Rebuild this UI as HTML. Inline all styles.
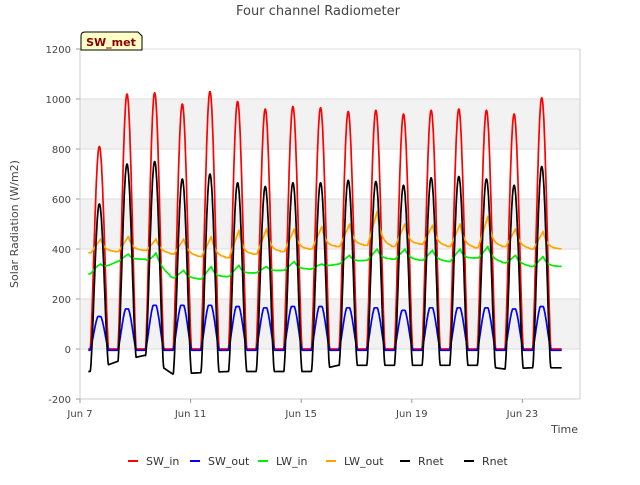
<!DOCTYPE html>
<html><head><meta charset="utf-8"><style>
body{margin:0;background:#fff;font-family:"Liberation Sans","DejaVu Sans",sans-serif}
svg text{font-family:"DejaVu Sans","Liberation Sans",sans-serif}
</style></head><body>
<svg id="c" width="640" height="480" xmlns="http://www.w3.org/2000/svg">
<text x="318" y="15" text-anchor="middle" font-size="13" fill="#444">Four channel Radiometer</text>
<text transform="translate(18,224) rotate(-90)" text-anchor="middle" font-size="11" fill="#444">Solar Radiation (W/m2)</text>
<text x="578" y="433" text-anchor="end" font-size="11" fill="#444">Time</text>
<g id="bands"></g><g id="grid"></g><g id="series"></g><g id="axes"></g>
<g>
<path d="M81,50 L81,36 Q81,32 85,32 L138,32 L142,36 L142,50 Z" fill="#ffffc8" stroke="#000" stroke-width="1"/>
<text x="111" y="46" text-anchor="middle" font-size="11" font-weight="bold" fill="#8b0000">SW_met</text>
</g>
<g id="legend"></g>
</svg>
<script>
const yTicks=[-200,0,200,400,600,800,1000,1200];
const xTickLabels=["Jun 7","Jun 11","Jun 15","Jun 19","Jun 23"];
const xTickDays=[0,4,8,12,16];
const swInPeak=[810,1020,1025,980,1030,990,960,970,965,950,955,940,955,960,955,940,1005];
const swOutPeak=[130,160,175,175,175,170,165,170,170,165,165,155,165,165,165,160,170];
const rnetPeak=[580,740,750,680,700,665,650,665,665,675,670,655,685,690,680,655,730];
const rnetNight=[-90,-50,-25,-100,-95,-90,-90,-90,-90,-65,-65,-65,-65,-65,-65,-80,-75];
const lwInMin=[300,350,360,285,280,290,305,315,320,340,355,360,355,350,365,345,330];
const lwInMax=[340,380,385,315,330,335,330,350,340,375,400,400,395,400,410,375,370];
const lwOutMin=[385,390,395,380,370,365,380,390,400,410,415,410,420,410,405,410,400];
const lwOutMax=[440,450,440,440,450,475,480,480,490,500,550,500,495,500,530,480,470];
const X0=80,X1=580,Y0=49,Y1=399,DAYPX=27.65;
const xs=d=>X0+d*DAYPX;
const ys=v=>Y0+(1200-v)*(Y1-Y0)/1400;
const NS="http://www.w3.org/2000/svg";
function mk(tag,attrs,parent){const e=document.createElementNS(NS,tag);for(const k in attrs)e.setAttribute(k,attrs[k]);parent.appendChild(e);return e;}
const bands=document.getElementById('bands'),grid=document.getElementById('grid'),axes=document.getElementById('axes'),ser=document.getElementById('series'),leg=document.getElementById('legend');
mk('rect',{x:X0,y:Y0,width:X1-X0,height:Y1-Y0,fill:'#fff'},bands);
for(let i=0;i<yTicks.length-1;i++){if(i%2===1){const r=mk('rect',{x:X0,y:ys(yTicks[i+1]),width:X1-X0,height:ys(yTicks[i])-ys(yTicks[i+1]),fill:'#f2f2f2'},bands);}}
yTicks.forEach(v=>{const l=mk('line',{x1:X0,x2:X1,y1:ys(v),y2:ys(v),stroke:'#ddd','stroke-width':1},grid);
const t=mk('text',{x:X0-9,y:ys(v)+4,'text-anchor':'end','font-size':10,fill:'#444'},axes);t.textContent=v;
mk('line',{x1:X0-4,x2:X0,y1:ys(v),y2:ys(v),stroke:'#999'},axes);});
mk('line',{x1:X0,x2:X0,y1:Y0,y2:Y1,stroke:'#ccc'},axes);
mk('line',{x1:X0,x2:X1,y1:Y1,y2:Y1,stroke:'#ccc'},axes);
mk('line',{x1:X1,x2:X1,y1:Y0,y2:Y1,stroke:'#ccc'},axes);
xTickDays.forEach((d,i)=>{mk('line',{x1:xs(d),x2:xs(d),y1:Y1,y2:Y1+4,stroke:'#999'},axes);
const t=mk('text',{x:xs(d),y:Y1+18,'text-anchor':'middle','font-size':10,fill:'#444'},axes);t.textContent=xTickLabels[i];});
const N=swInPeak.length;
function interp(arr,t){const p=t-0.35;const k=Math.floor(p),f=p-k;const a=arr[Math.max(0,Math.min(N-1,k))],b=arr[Math.max(0,Math.min(N-1,k+1))];return a+(b-a)*f;}
function dayShape(t){const k=Math.min(N-1,Math.max(0,Math.round(t-0.7)));const u=(t-(k+0.7))/0.33;const s=Math.abs(u)<1?Math.pow(Math.cos(u*Math.PI/2),1.4):0;return {k,s};}
function lwShape(t){const k=Math.min(N-1,Math.max(0,Math.round(t-0.75)));const u=t-(k+0.75);let s=u<0?Math.max(0,1+u/0.35):Math.exp(-u/0.15);return {k,s:Math.max(0,Math.min(1,s))};}
const sets=[
 {name:'sw-in',color:'#ff0000',f:t=>{const {k,s}=dayShape(t);return swInPeak[k]*s;}},
 {name:'sw-out',color:'#0000ff',f:t=>{const {k,s}=dayShape(t);return s>0?swOutPeak[k]*Math.min(1,s*1.05):-5;}},
 {name:'lw-in',color:'#00ee00',f:t=>{const {k,s}=lwShape(t);const b=interp(lwInMin,t);return b+(lwInMax[k]-b)*s;}},
 {name:'lw-out',color:'#ffa500',f:t=>{const {k,s}=lwShape(t);const b=interp(lwOutMin,t);return b+(lwOutMax[k]-b)*s;}},
 {name:'rnet',color:'#000000',f:t=>{const {k,s}=dayShape(t);const b=interp(rnetNight,t);return b+(rnetPeak[k]-b)*Math.pow(s,1.1);}}
];
sets.forEach(S=>{let d='';for(let t=0.3;t<=17.42;t+=0.01){d+=(d?'L':'M')+xs(t).toFixed(1)+','+ys(S.f(t)).toFixed(1);}
const p=mk('path',{d:d,fill:'none',stroke:S.color,'stroke-width':1.7,'stroke-linejoin':'round'},ser);
});
const legItems=[['SW_in','#ff0000',128],['SW_out','#0000ff',190],['LW_in','#00ee00',258],['LW_out','#ffa500',326],['Rnet','#000000',400],['Rnet','#000000',464]];
legItems.forEach(([n,c,x])=>{const g=mk('g',{},leg);
mk('line',{x1:x,x2:x+10,y1:461,y2:461,stroke:c,'stroke-width':2},g);
const t=mk('text',{x:x+18,y:465,'font-size':11,fill:'#333'},g);t.textContent=n;});
</script>
</body></html>
